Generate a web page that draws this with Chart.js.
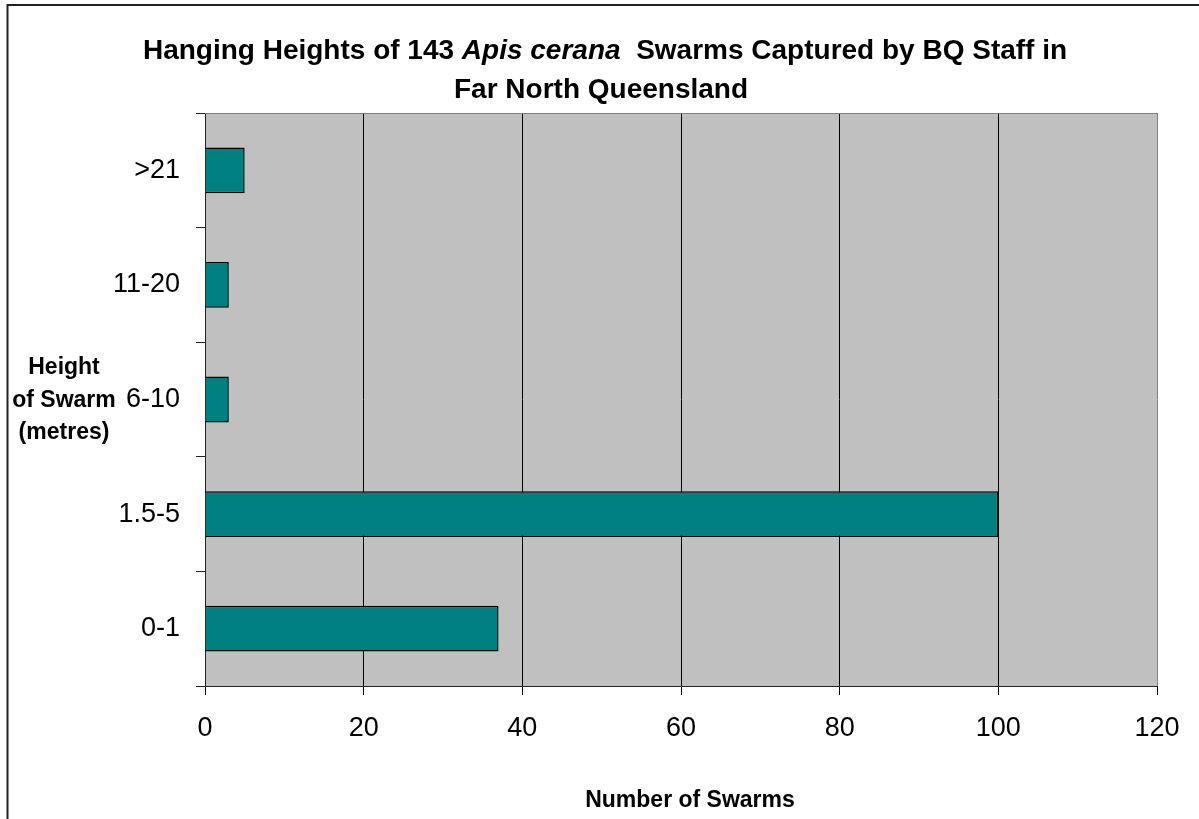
<!DOCTYPE html>
<html><head><meta charset="utf-8">
<script src="https://cdn.jsdelivr.net/npm/chart.js@4/dist/chart.umd.min.js"></script>
<style>html,body{margin:0;padding:0;background:#fff;overflow:hidden}#wrap{position:relative;width:1199px;height:819px}</style>
</head><body><div id="wrap"><canvas id="c" width="1199" height="819"></canvas></div>
<script>
const categories = ['>21', '11-20', '6-10', '1.5-5', '0-1'];
const swarmCounts = [5, 3, 3, 100, 37];
const xTicks = [0, 20, 40, 60, 80, 100, 120];
const titleLine1 = [['Hanging Heights of 143 ', 'normal'], ['Apis cerana', 'italic'], ['  Swarms Captured by BQ Staff in', 'normal']];
const titleLine2 = 'Far North Queensland';
const xAxisTitle = 'Number of Swarms';
const yAxisTitle = ['Height', 'of Swarm', '(metres)'];

const FF = "'Liberation Sans', Arial, sans-serif";

const decor = {
  id: 'decor',
  beforeDraw(chart) {
    const {ctx, chartArea: a} = chart;
    ctx.save();
    ctx.fillStyle = '#fff';
    ctx.fillRect(0, 0, chart.width, chart.height);
    ctx.fillStyle = '#C0C0C0';
    ctx.fillRect(a.left, a.top, a.right - a.left, a.bottom - a.top);
    ctx.restore();
  },
  afterDraw(chart) {
    const {ctx, chartArea: a} = chart;
    ctx.save();
    // plot-area top edge
    ctx.strokeStyle = '#808080';
    ctx.lineWidth = 1;
    ctx.beginPath();
    ctx.moveTo(a.left, Math.round(a.top) + 0.5);
    ctx.lineTo(a.right, Math.round(a.top) + 0.5);
    ctx.stroke();
    // outer chart border (left and top)
    ctx.strokeStyle = '#222';
    ctx.lineWidth = 2;
    ctx.beginPath();
    ctx.moveTo(7.5, chart.height);
    ctx.lineTo(7.5, 5);
    ctx.lineTo(chart.width, 5);
    ctx.stroke();
    // title
    ctx.fillStyle = '#000';
    ctx.textBaseline = 'alphabetic';
    const tSize = 28;
    let total = 0;
    titleLine1.forEach(([t, s]) => { ctx.font = s + ' bold ' + tSize + 'px ' + FF; total += ctx.measureText(t).width; });
    let x = 605 - total / 2;
    ctx.textAlign = 'left';
    titleLine1.forEach(([t, s]) => { ctx.font = s + ' bold ' + tSize + 'px ' + FF; ctx.fillText(t, x, 59); x += ctx.measureText(t).width; });
    ctx.font = 'bold ' + tSize + 'px ' + FF;
    ctx.textAlign = 'center';
    ctx.fillText(titleLine2, 601, 98);
    // axis titles
    ctx.font = 'bold 23px ' + FF;
    ctx.fillText(xAxisTitle, 690, 807);
    yAxisTitle.forEach((t, i) => ctx.fillText(t, 64, 374 + i * 32.5));
    ctx.restore();
  }
};

new Chart(document.getElementById('c'), {
  type: 'bar',
  data: {
    labels: categories,
    datasets: [{
      data: swarmCounts,
      backgroundColor: '#008080',
      borderColor: '#000',
      borderWidth: 1.5,
      barPercentage: 0.4,
      categoryPercentage: 1
    }]
  },
  options: {
    responsive: false,
    animation: false,
    indexAxis: 'y',
    layout: {padding: {left: 0, right: 42, top: 113, bottom: 0}},
    plugins: {legend: {display: false}, title: {display: false}, tooltip: {enabled: false}},
    scales: {
      x: {
        type: 'linear', min: 0, max: 120,
        afterBuildTicks: s => { s.ticks = xTicks.map(v => ({value: v})); },
        ticks: {font: {family: FF, size: 27}, color: '#000', padding: 17, maxRotation: 0, autoSkip: false},
        grid: {
          color: ctx => (ctx.tick && ctx.tick.value === 120) ? '#808080' : '#000',
          lineWidth: 1, tickLength: 9, tickColor: '#000'
        },
        border: {color: '#222', width: 1},
        afterFit: s => { s.height = 133; }
      },
      y: {
        ticks: {font: {family: FF, size: 27}, color: '#000', padding: 16},
        grid: {drawOnChartArea: false, tickLength: 9, tickColor: '#222', offset: true},
        border: {color: '#222', width: 1},
        afterFit: s => { s.width = 205; }
      }
    }
  },
  plugins: [decor]
});
</script>
</body></html>
